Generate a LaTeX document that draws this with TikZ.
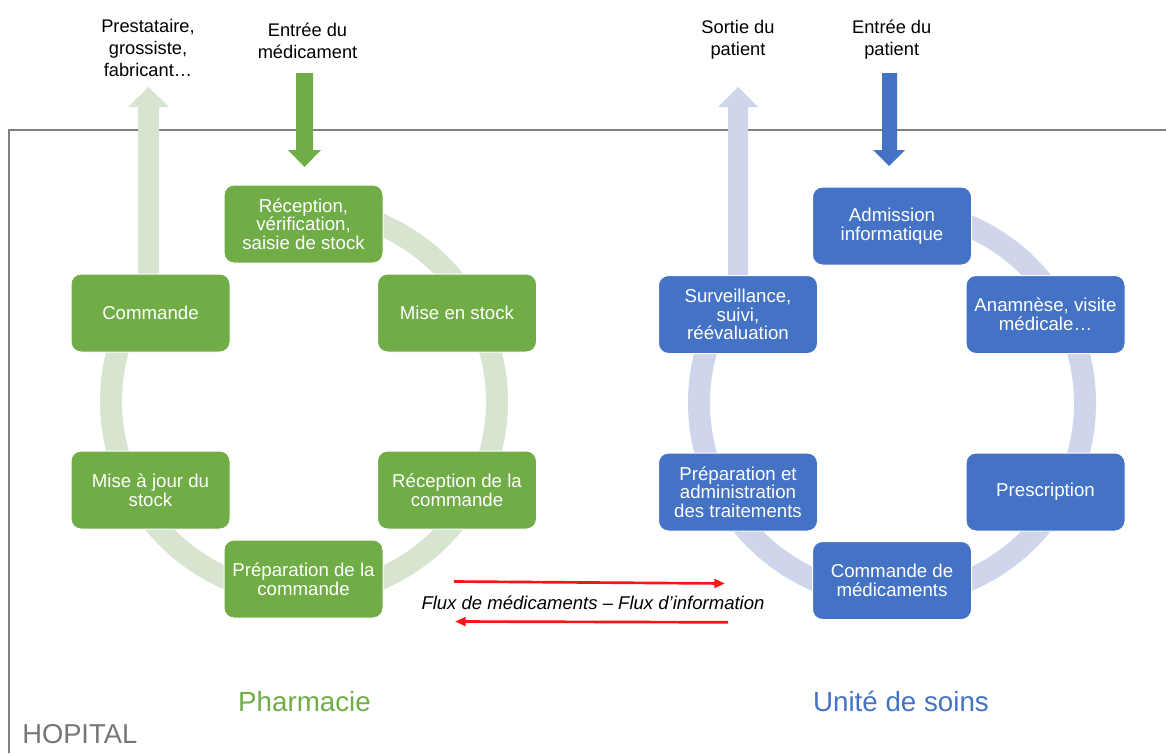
\documentclass[tikz,border=0pt]{standalone}
\usepackage{fontspec}
\setmainfont{Liberation Sans}
\usetikzlibrary{arrows.meta}
\definecolor{pgreen}{RGB}{112,173,71}
\definecolor{lgreen}{RGB}{215,228,208}
\definecolor{pblue}{RGB}{68,114,196}
\definecolor{lblue}{RGB}{207,213,234}
\definecolor{fgray}{RGB}{128,128,128}
\definecolor{hgray}{RGB}{118,118,118}
\definecolor{fred}{RGB}{250,20,20}
\tikzset{
  stepbox/.style={rectangle, rounded corners=7.5pt, minimum width=119.25pt, minimum height=58.5pt,
    draw=white, line width=0.75pt, text=white, align=center, inner sep=0pt,
    font=\fontsize{14}{14}\selectfont},
  gbox/.style={stepbox, fill=pgreen},
  bbox/.style={stepbox, fill=pblue},
  toplabel/.style={align=center, inner sep=0pt, font=\fontsize{13.7}{16.5}\selectfont},
  ring/.style={line width=16.5pt},
  flow/.style={fred, line width=2pt, -{Triangle[length=8pt,width=6.5pt]}},
  section/.style={inner sep=0pt, anchor=base, font=\fontsize{20.8}{24}\selectfont}
}
\begin{document}
\begin{tikzpicture}[x=0.75pt,y=-0.75pt]
\useasboundingbox (0,0) rectangle (1166,753);

% hospital frame
\draw[fgray, line width=1.5pt] (9,753) -- (9,130) -- (1166,130);

% rings
\draw[lgreen, ring] ([shift={(-145:193)}]304,401.5) arc[start angle=-145, end angle=-450, radius=193];
\draw[lblue, ring] ([shift={(-145:193)}]892,403) arc[start angle=-145, end angle=-450, radius=193];

% light exit arrows
\fill[lgreen] (138,300) -- (138,107) -- (128,107) -- (148.5,87) -- (169,107) -- (159,107) -- (159,300) -- cycle;
\fill[lblue] (728,300) -- (728,107) -- (718,107) -- (738,87) -- (758,107) -- (748,107) -- (748,300) -- cycle;

% entry arrows
\fill[pgreen] (296,73) -- (313,73) -- (313,150) -- (321,150) -- (304.5,167) -- (288,150) -- (296,150) -- cycle;
\fill[pblue] (882,73) -- (897,73) -- (897,150) -- (905,150) -- (889,166) -- (873,150) -- (882,150) -- cycle;

% pharmacy boxes
\node[gbox] (rec) at (303.5,224) {Réception,\\vérification,\\saisie de stock};
\node[gbox] (cmd) at (150.5,313) {Commande};
\node[gbox] (mis) at (457,313) {Mise en stock};
\node[gbox] (maj) at (150.5,490) {Mise à jour du\\stock};
\node[gbox] (rcc) at (457,490) {Réception de la\\commande};
\node[gbox] (prc) at (303.5,579) {Préparation de la\\commande};

% care unit boxes
\node[bbox] (adm) at (892,226) {Admission\\informatique};
\node[bbox] (sur) at (738,314.5) {Surveillance,\\suivi,\\réévaluation};
\node[bbox] (ana) at (1045.5,314.5) {Anamnèse, visite\\médicale…};
\node[bbox] (pat) at (738,492) {Préparation et\\administration\\des traitements};
\node[bbox] (pre) at (1045.5,492) {Prescription};
\node[bbox] (cdm) at (892,580.5) {Commande de\\médicaments};

% top labels
\node[toplabel] (l1) at (148,47.5) {Prestataire,\\grossiste,\\fabricant…};
\node[toplabel] (l2) at (307.5,41) {Entrée du\\médicament};
\node[toplabel] (l3) at (738,40) {Sortie du\\patient};
\node[toplabel] (l4) at (891.7,40) {Entrée du\\patient};

% flows
\coordinate (f1s) at (454,581.5);
\coordinate (f1e) at (725,583.5);
\coordinate (f2s) at (728,622.3);
\coordinate (f2e) at (455,621.5);
\draw[flow] (f1s) -- (f1e);
\draw[flow] (f2s) -- (f2e);
\node[inner sep=0pt, font=\fontsize{13.9}{16}\selectfont\itshape] (flux) at (593,603) {Flux de médicaments – Flux d’information};

% section titles
\node[section, text=pgreen] (ph) at (304.5,711) {Pharmacie};
\node[section, text=pblue] (us) at (901,711) {Unité de soins};
\node[inner sep=0pt, anchor=base west, text=hgray, font=\fontsize{20.5}{24}\selectfont] (hop) at (22,743) {HOPITAL};
\end{tikzpicture}
\end{document}
